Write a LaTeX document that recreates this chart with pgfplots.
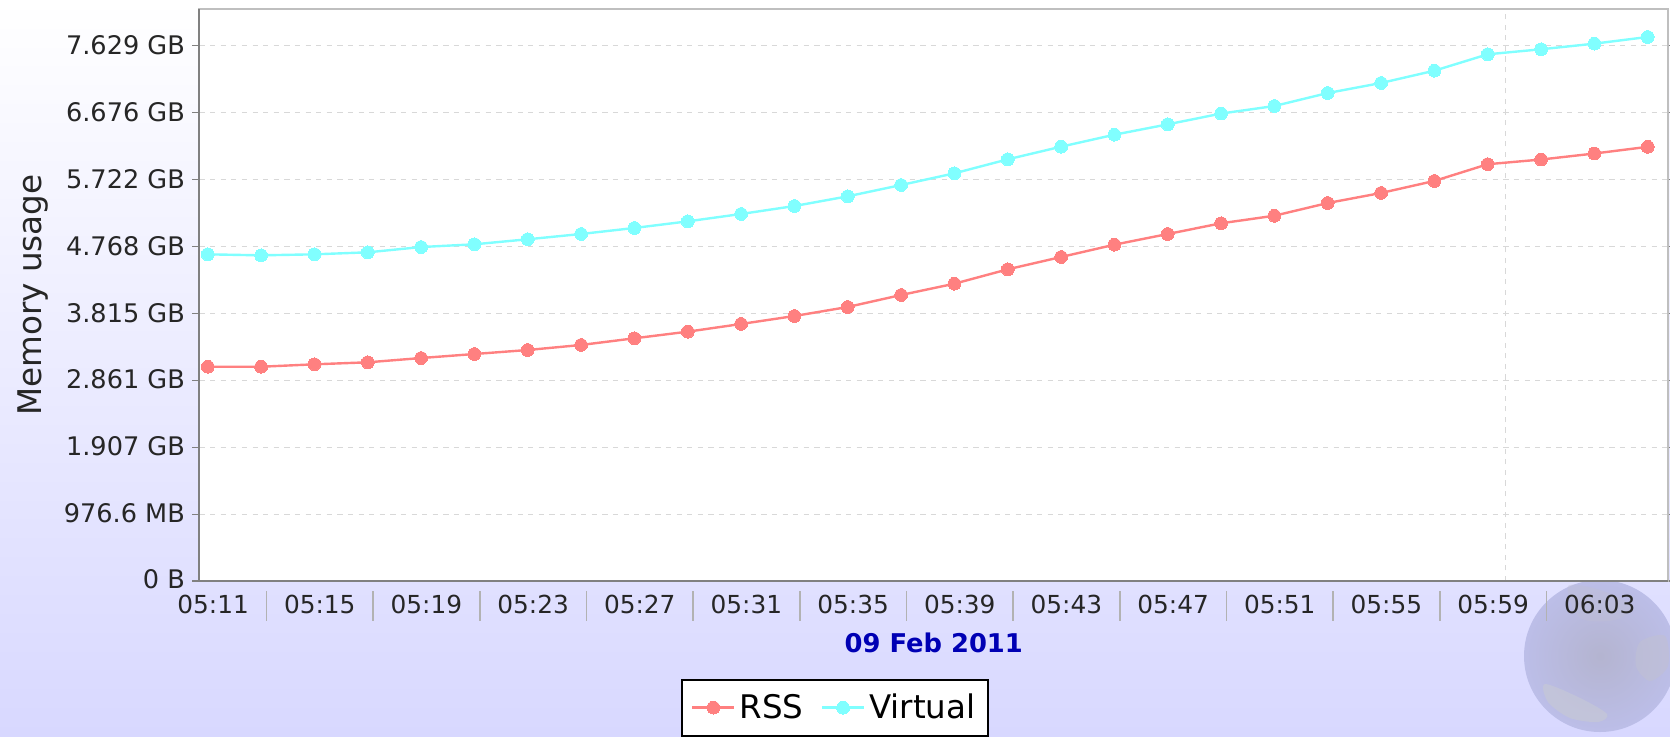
\documentclass[border=0pt]{standalone}
\usepackage{pgfplots}
\pgfplotsset{compat=1.18}
\usepackage{fontspec}
\setmainfont{DejaVu Sans}
\definecolor{rsscol}{HTML}{FF8080}
\definecolor{virtcol}{HTML}{80FFFF}
\definecolor{bgbottom}{HTML}{D8D8FF}
\definecolor{gridcol}{HTML}{D8D8D8}
\definecolor{datecol}{HTML}{0000B4}
\definecolor{globein}{HTML}{B4B4D0}
\definecolor{globeout}{HTML}{BCBEE8}
\definecolor{landa}{HTML}{C4C6D8}
\definecolor{landb}{HTML}{C0C0D4}
% 1 px of the reference = 0.5pt
\begin{document}
\begin{tikzpicture}
\useasboundingbox (0pt,0pt) rectangle (835pt,368pt);
\begin{scope}[x=0.5pt,y=0.5pt]
\shade[top color=white,bottom color=bgbottom] (0,0) rectangle (1670,736);
% globe watermark
\clip (0,0) rectangle (1670,736);
\shade[inner color=globein,outer color=globeout] (1600,80) circle[radius=76];
\fill[landa,opacity=.8] plot[smooth cycle] coordinates {(1545,52)(1580,38)(1607,22)(1598,14)(1570,18)(1548,34)};
\fill[landb,opacity=.6] plot[smooth cycle] coordinates {(1640,94)(1665,100)(1668,70)(1650,55)(1636,70)};
\fill[landb,opacity=.4] plot[smooth cycle] coordinates {(1568,150)(1600,146)(1632,130)(1615,116)(1580,118)};
\end{scope}
\begin{axis}[
  at={(99.75pt,77.5pt)},anchor=south west,
  scale only axis,
  width=734.25pt,height=286pt,
  xmin=10.49,xmax=65.56,
  ymin=0,ymax=8.55,
  axis background/.style={fill=white},
  axis line style={color=black!25,line width=1pt},
  ytick={0,1,2,3,4,5,6,7,8},
  yticklabels={\raisebox{1pt}{0 B},976.6 MB,1.907 GB,2.861 GB,3.815 GB,4.768 GB,5.722 GB,6.676 GB,7.629 GB},
  xtick={11,15,19,23,27,31,35,39,43,47,51,55,59,63},
  xticklabels={05:11,05:15,05:19,05:23,05:27,05:31,05:35,05:39,05:43,05:47,05:51,05:55,05:59,06:03},
  extra x ticks={59.48},
  extra x tick labels={},
  extra x tick style={
    xmajorgrids=true,
    major tick length=3.5pt,
    tick style={color=black!50,line width=.5pt},
    grid style={color=gridcol,line width=.6pt,dash pattern=on 2.6pt off 2.7pt}},
  ymajorgrids=true,
  grid style={color=gridcol,line width=.6pt,dash pattern=on 2.6pt off 2.7pt},
  tick align=outside,
  ytick style={color=black!50,line width=.6pt},
  xtick style={draw=none},
  major tick length=3.5pt,
  tick label style={color=black!85},
  y tick label style={font=\fontsize{12.8}{14}\selectfont,inner sep=0pt,anchor=east,yshift=-1.5pt},
  yticklabel shift=3.6pt,
  x tick label style={font=\fontsize{12.4}{14}\selectfont,inner sep=0pt,anchor=center,yshift=-9.7pt},
  typeset ticklabels with strut=false,
  xlabel={09 Feb 2011},
  xlabel style={font=\fontsize{12.9}{14}\selectfont\bfseries,color=datecol,
    at={(axis description cs:0.5,-0.108)},anchor=center,inner sep=0pt},
  ylabel={Memory usage},
  ylabel style={font=\fontsize{16.3}{18}\selectfont,color=black!85,
    at={(axis description cs:-0.1135,0.5)},anchor=center,inner sep=0pt},
  clip=false,
  legend columns=2,
  legend style={at={(axis description cs:0.433,-0.171)},anchor=north,
    draw=black,line width=1pt,fill=white,
    font=\fontsize{16.25}{18}\selectfont,
    inner xsep=4.5pt,inner ysep=5pt,
    /tikz/every even column/.append style={column sep=6.7pt}},
  legend image code/.code={
    \draw[#1,mark repeat=2,mark phase=2] plot coordinates {(0pt,0pt)(10.5pt,0pt)(21pt,0pt)};},
]
\addplot[color=rsscol,line width=1.2pt,mark=*,mark size=3.2pt,mark options={fill=rsscol,draw=rsscol,line width=0pt}]
  table[row sep=\\] {
  x y\\
  10.8 3.203\\ 12.8 3.203\\ 14.8 3.239\\ 16.8 3.269\\ 18.8 3.333\\ 20.8 3.393\\ 22.8 3.453\\
  24.8 3.528\\ 26.8 3.628\\ 28.8 3.727\\ 30.8 3.842\\ 32.8 3.961\\ 34.8 4.096\\ 36.8 4.275\\
  38.8 4.444\\ 40.8 4.659\\ 42.8 4.843\\ 44.8 5.027\\ 46.8 5.187\\ 48.8 5.347\\ 50.8 5.460\\
  52.8 5.650\\ 54.8 5.800\\ 56.8 5.980\\ 58.8 6.230\\ 60.8 6.300\\ 62.8 6.390\\ 64.8 6.490\\
};
\addlegendentry{RSS}
\addplot[color=virtcol,line width=1.2pt,mark=*,mark size=3.2pt,mark options={fill=virtcol,draw=virtcol,line width=0pt}]
  table[row sep=\\] {
  x y\\
  10.8 4.883\\ 12.8 4.868\\ 14.8 4.883\\ 16.8 4.913\\ 18.8 4.992\\ 20.8 5.033\\ 22.8 5.108\\
  24.8 5.187\\ 26.8 5.277\\ 28.8 5.376\\ 30.8 5.486\\ 32.8 5.605\\ 34.8 5.750\\ 36.8 5.919\\
  38.8 6.094\\ 40.8 6.303\\ 42.8 6.492\\ 44.8 6.671\\ 46.8 6.826\\ 48.8 6.987\\ 50.8 7.100\\
  52.8 7.294\\ 54.8 7.444\\ 56.8 7.628\\ 58.8 7.873\\ 60.8 7.948\\ 62.8 8.032\\ 64.8 8.132\\
};
\addlegendentry{Virtual}
% darker left and bottom spines
\draw[color=black!50,line width=1pt] (rel axis cs:0,1) -- (rel axis cs:0,0) -- (rel axis cs:1,0);
% separators between the date labels
\pgfplotsinvokeforeach{13,17,21,25,29,33,37,41,45,49,53,57,61}{
  \draw[color=black!30,line width=.8pt] (axis cs:#1,0) ++(0pt,-5pt) -- ++(0pt,-15pt);
}
\end{axis}
\end{tikzpicture}
\end{document}
